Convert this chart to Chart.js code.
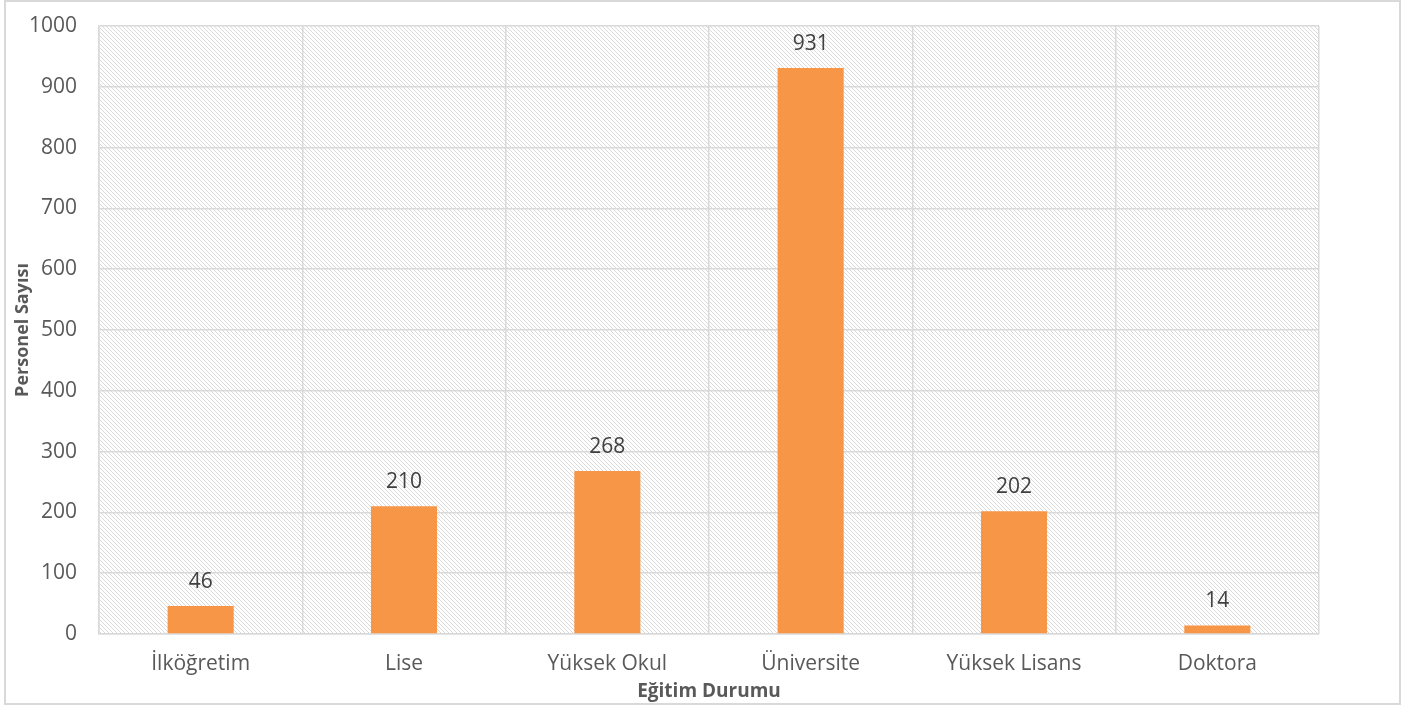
<!DOCTYPE html>
<html>
  <head>
    <meta charset="UTF-8">
    <title>Eğitim Durumu</title>
    <script src="https://cdn.jsdelivr.net/npm/chart.js"></script>
    <style>
      body { margin: 0; background: #fff; }
      #wrap { width: 1408px; height: 706px; }
    </style>
  </head>
  <body>
    <div id="wrap"><canvas id="egitimChart"></canvas></div>

    <script>
      const categories = ['İlköğretim', 'Lise', 'Yüksek Okul', 'Üniversite', 'Yüksek Lisans', 'Doktora'];
      const personelValues = [46, 210, 268, 931, 202, 14];
      const yTicks = [0, 100, 200, 300, 400, 500, 600, 700, 800, 900, 1000];

      // diagonal hatch for the plot background
      function makeHatch() {
        const c = document.createElement('canvas');
        c.width = 4; c.height = 4;
        const g = c.getContext('2d');
        g.fillStyle = '#ffffff';
        g.fillRect(0, 0, 4, 4);
        g.fillStyle = '#dadada';
        for (let i = 0; i < 4; i++) g.fillRect(i, i, 1, 1);
        return c;
      }

      const backgroundPlugin = {
        id: 'background',
        beforeDraw(chart) {
          const ctx = chart.ctx;
          const a = chart.chartArea;
          ctx.save();
          ctx.fillStyle = '#ffffff';
          ctx.fillRect(0, 0, chart.width, chart.height);
          ctx.fillStyle = ctx.createPattern(makeHatch(), 'repeat');
          ctx.fillRect(a.left, a.top, a.right - a.left, a.bottom - a.top);
          ctx.strokeStyle = '#d9d9d9';
          ctx.lineWidth = 2;
          ctx.strokeRect(5, 1, 1395, 703);
          ctx.restore();
        }
      };

      const valueLabels = {
        id: 'valueLabels',
        afterDatasetsDraw(chart) {
          const ctx = chart.ctx;
          const meta = chart.getDatasetMeta(0);
          ctx.save();
          ctx.font = '21px "Open Sans"';
          ctx.fillStyle = '#404040';
          ctx.textAlign = 'center';
          ctx.textBaseline = 'alphabetic';
          meta.data.forEach((bar, i) => {
            ctx.fillText(personelValues[i], bar.x, bar.y - 18);
          });
          ctx.restore();
        }
      };

      const ctx = document.getElementById('egitimChart').getContext('2d');
      new Chart(ctx, {
        type: 'bar',
        data: {
          labels: categories,
          datasets: [{
            label: 'Personel Sayısı',
            data: personelValues,
            backgroundColor: '#F79646',
            barPercentage: 0.325,
            categoryPercentage: 1
          }]
        },
        options: {
          responsive: true,
          maintainAspectRatio: false,
          animation: false,
          layout: { padding: { left: 0, right: 89, top: 26, bottom: 0 } },
          plugins: {
            legend: { display: false },
            tooltip: { enabled: false }
          },
          scales: {
            x: {
              grid: { color: '#d9d9d9', lineWidth: 1.5, drawTicks: false },
              border: { color: '#d9d9d9', width: 1.5 },
              ticks: { color: '#595959', font: { family: 'Open Sans', size: 21 }, padding: 17, maxRotation: 0 },
              title: {
                display: true,
                text: 'Eğitim Durumu',
                color: '#595959',
                font: { family: 'Open Sans', size: 19, weight: 'bold' },
                padding: { top: 0, bottom: 3 }
              },
              afterFit(scale) { scale.height = 72; }
            },
            y: {
              min: 0,
              max: 1000,
              afterBuildTicks(scale) { scale.ticks = yTicks.map(v => ({ value: v })); },
              grid: { color: '#d9d9d9', lineWidth: 1.5, drawTicks: false },
              border: { color: '#d9d9d9', width: 1.5 },
              ticks: {
                color: '#595959',
                font: { family: 'Open Sans', size: 21 },
                padding: 22,
                callback: v => String(v)
              },
              title: {
                display: true,
                text: 'Personel Sayısı',
                color: '#595959',
                font: { family: 'Open Sans', size: 18, weight: 'bold' },
                padding: { top: 12, bottom: 0 }
              },
              afterFit(scale) {
                scale.width = 99;
                scale.paddingTop = 0;
                scale.paddingBottom = 0;
              }
            }
          }
        },
        plugins: [backgroundPlugin, valueLabels]
      });
    </script>
  </body>
</html>
